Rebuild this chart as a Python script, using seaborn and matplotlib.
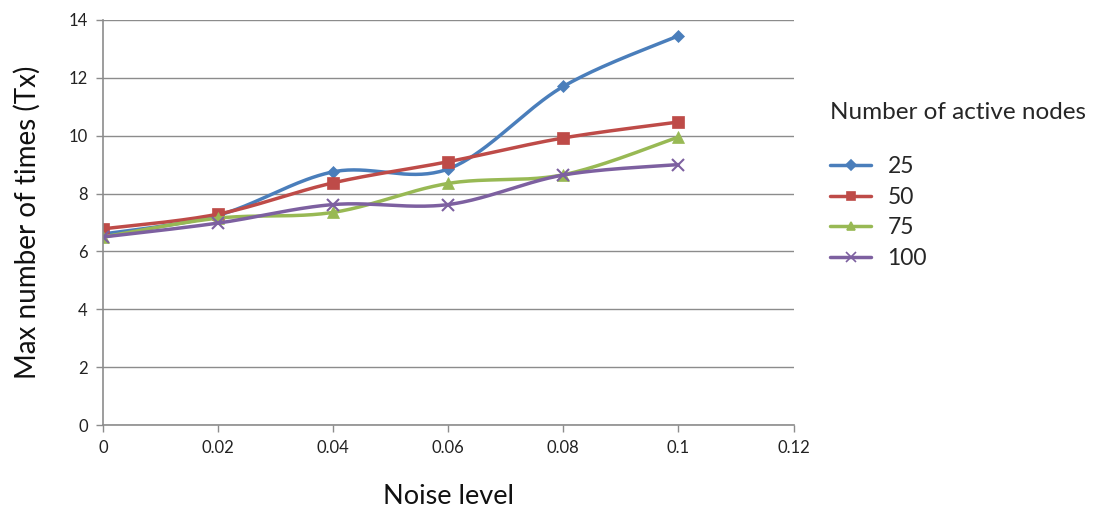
import numpy as np
import pandas as pd
import matplotlib
matplotlib.use("Agg")
import matplotlib.pyplot as plt
import seaborn as sns
from matplotlib.lines import Line2D

noise = [0, 0.02, 0.04, 0.06, 0.08, 0.1]
series_names = ["25", "50", "75", "100"]
vals_25 = [6.6, 7.25, 8.75, 8.85, 11.7, 13.45]
vals_50 = [6.78, 7.29, 8.37, 9.1, 9.92, 10.47]
vals_75 = [6.5, 7.15, 7.35, 8.35, 8.65, 9.95]
vals_100 = [6.5, 6.98, 7.62, 7.62, 8.64, 9.0]
x_ticks = [0, 0.02, 0.04, 0.06, 0.08, 0.1, 0.12]
x_tick_labels = ["0", "0.02", "0.04", "0.06", "0.08", "0.1", "0.12"]
y_ticks = [0, 2, 4, 6, 8, 10, 12, 14]
y_tick_labels = ["0", "2", "4", "6", "8", "10", "12", "14"]

colors = ["#4A7EBB", "#BE4B48", "#98B954", "#7D60A0"]
markers = ["D", "s", "^", "x"]
msizes = [6, 8, 8, 9]

sns.set_theme(style="white")
plt.rcParams["font.family"] = ["Lato", "DejaVu Sans"]

df = pd.DataFrame({"noise": noise * 4,
                   "value": vals_25 + vals_50 + vals_75 + vals_100,
                   "nodes": sum([[n] * len(noise) for n in series_names], [])})


def smooth(x, y, n=40, t=0.5):
    # Catmull-Rom style smoothing (Excel "smoothed line" look)
    x = np.asarray(x, float); y = np.asarray(y, float)
    px = np.concatenate([[x[0]], x, [x[-1]]])
    py = np.concatenate([[y[0]], y, [y[-1]]])
    xs, ys = [], []
    for i in range(1, len(px) - 2):
        p0 = np.array([px[i - 1], py[i - 1]]); p1 = np.array([px[i], py[i]])
        p2 = np.array([px[i + 1], py[i + 1]]); p3 = np.array([px[i + 2], py[i + 2]])
        c1 = p1 + (p2 - p0) * t / 3
        c2 = p2 - (p3 - p1) * t / 3
        s = np.linspace(0, 1, n)[:, None]
        b = (1 - s) ** 3 * p1 + 3 * (1 - s) ** 2 * s * c1 + 3 * (1 - s) * s ** 2 * c2 + s ** 3 * p2
        xs.extend(b[:, 0]); ys.extend(b[:, 1])
    return xs, ys


fig = plt.figure(figsize=(11.12, 5.08), dpi=100)
ax = fig.add_axes([0.0926, 0.163, 0.621, 0.798])

for name, c, m, ms in zip(series_names, colors, markers, msizes):
    sub = df[df["nodes"] == name]
    sx, sy = smooth(sub["noise"], sub["value"])
    sns.lineplot(x=sx, y=sy, ax=ax, color=c, linewidth=2.5, sort=False, estimator=None)
    ax.plot(sub["noise"], sub["value"], linestyle="none", marker=m, color=c,
            markersize=ms, markeredgewidth=1.5 if m == "x" else 0.5,
            markeredgecolor=c)

ax.set_xlim(0, 0.12)
ax.set_ylim(0, 14)
ax.set_xticks(x_ticks)
ax.set_xticklabels(x_tick_labels, fontsize=12)
ax.set_yticks(y_ticks)
ax.set_yticklabels(y_tick_labels, fontsize=12)
ax.grid(axis="y", color="#8C8C8C", linewidth=1)
ax.grid(axis="x", visible=False)
for side in ["top", "right"]:
    ax.spines[side].set_visible(False)
for side in ["left", "bottom"]:
    ax.spines[side].set_color("#8C8C8C")
    ax.spines[side].set_linewidth(1.2)
ax.tick_params(axis="both", which="major", direction="out", length=5, width=1,
               color="#8C8C8C", labelcolor="#222222", pad=6,
               bottom=True, left=True)
ax.set_xlabel("Noise level", fontsize=19.5, labelpad=20, color="#111111")
ax.set_ylabel("Max number of times (Tx)", fontsize=20, labelpad=20, color="#111111")

# legend
handles = [Line2D([0], [0], color=c, marker=m, markersize=ms * 0.8, linewidth=2.5,
                  markeredgecolor=c, markeredgewidth=1.2)
           for c, m, ms in zip(colors, markers, msizes)]
leg = fig.legend(handles, series_names, title="Number of active nodes",
                 loc="upper left", bbox_to_anchor=(0.728, 0.84), frameon=False,
                 fontsize=16.5, title_fontsize=17.5, handlelength=1.8,
                 labelspacing=0.42, handletextpad=0.7)
leg._legend_box.align = "left"
leg._legend_box.sep = 24

fig.savefig("out.png", dpi=100)
